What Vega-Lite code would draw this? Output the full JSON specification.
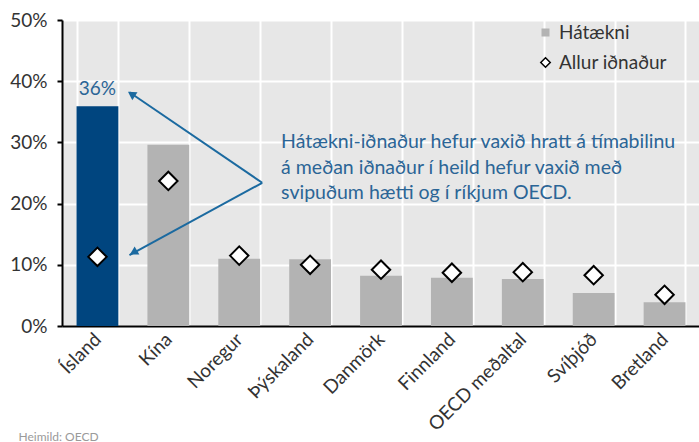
{
  "$schema": "https://vega.github.io/schema/vega-lite/v6.json",
  "width": 638,
  "height": 306,
  "autosize": {"type": "none"},
  "padding": {"left": 62, "top": 20, "right": 0, "bottom": 116},
  "config": {
    "view": {"fill": "#e7e7e7", "stroke": null},
    "font": "Lato",
    "axis": {"labelFont": "Lato", "labelFontSize": 19, "labelColor": "#333333", "labelFontWeight": 400}
  },
  "datasets": {
    "main": [
      {"land": "Ísland", "hataekni": 0.359, "allur": 0.113, "s1": "Hátækni", "s2": "Allur iðnaður"},
      {"land": "Kína", "hataekni": 0.296, "allur": 0.237, "s1": "Hátækni", "s2": "Allur iðnaður"},
      {"land": "Noregur", "hataekni": 0.110, "allur": 0.115, "s1": "Hátækni", "s2": "Allur iðnaður"},
      {"land": "Þýskaland", "hataekni": 0.109, "allur": 0.100, "s1": "Hátækni", "s2": "Allur iðnaður"},
      {"land": "Danmörk", "hataekni": 0.082, "allur": 0.092, "s1": "Hátækni", "s2": "Allur iðnaður"},
      {"land": "Finnland", "hataekni": 0.079, "allur": 0.087, "s1": "Hátækni", "s2": "Allur iðnaður"},
      {"land": "OECD meðaltal", "hataekni": 0.077, "allur": 0.088, "s1": "Hátækni", "s2": "Allur iðnaður"},
      {"land": "Svíþjóð", "hataekni": 0.054, "allur": 0.083, "s1": "Hátækni", "s2": "Allur iðnaður"},
      {"land": "Bretland", "hataekni": 0.039, "allur": 0.051, "s1": "Hátækni", "s2": "Allur iðnaður"}
    ]
  },
  "layer": [
    {
      "data": {"name": "main"},
      "mark": {"type": "bar"},
      "encoding": {
        "x": {
          "field": "land", "type": "nominal", "sort": null,
          "scale": {"domain": ["Ísland", "Kína", "Noregur", "Þýskaland", "Danmörk", "Finnland", "OECD meðaltal", "Svíþjóð", "Bretland"], "paddingInner": 0.41, "paddingOuter": 0.205},
          "axis": {
            "title": "Heimild: OECD", "titleX": -44, "titleY": 110, "titleAlign": "left", "titleBaseline": "middle",
            "titleFontSize": 12, "titleFontWeight": "normal", "titleColor": "#9a9a9a", "titleFont": "Lato",
            "labelAngle": -45, "labelAlign": "right", "labelBaseline": "middle", "labelPadding": 10,
            "ticks": false, "grid": true, "tickBand": "extent", "gridColor": "white", "gridWidth": 2,
            "domainColor": "black", "domainWidth": 2
          }
        },
        "y": {
          "field": "hataekni", "type": "quantitative",
          "scale": {"domain": [0, 0.5], "nice": false},
          "axis": {
            "title": null, "format": ".0%", "values": [0, 0.1, 0.2, 0.3, 0.4, 0.5],
            "grid": true, "gridColor": "white", "gridWidth": 2,
            "domainColor": "black", "domainWidth": 2, "tickColor": "black", "tickWidth": 2, "tickSize": 5, "labelPadding": 10
          }
        },
        "color": {
          "condition": {"test": "datum.land === 'Ísland'", "value": "#00457f"},
          "field": "s1", "type": "nominal",
          "scale": {"domain": ["Hátækni"], "range": ["#b3b3b3"]},
          "legend": {
            "title": null, "orient": "none", "legendX": 474, "legendY": 3, "padding": 0,
            "symbolType": "square", "symbolSize": 64, "labelFontSize": 19, "labelColor": "#333333",
            "labelFont": "Lato", "labelFontWeight": 400, "labelOffset": 4
          }
        }
      }
    },
    {
      "data": {"name": "main"},
      "mark": {"type": "point", "filled": true, "fill": "white", "stroke": "black", "strokeWidth": 2, "size": 340, "opacity": 1},
      "encoding": {
        "x": {"field": "land", "type": "nominal", "sort": null},
        "y": {"field": "allur", "type": "quantitative"},
        "shape": {
          "field": "s2", "type": "nominal",
          "scale": {"domain": ["Allur iðnaður"], "range": ["diamond"]},
          "legend": {
            "title": null, "orient": "none", "legendX": 474, "legendY": 33, "padding": 0,
            "symbolSize": 90,
            "labelFontSize": 19, "labelColor": "#333333", "labelFont": "Lato", "labelFontWeight": 400, "labelOffset": 4,
            "encode": {"symbols": {"update": {"fill": {"value": "white"}, "stroke": {"value": "black"}, "strokeWidth": {"value": 2}, "opacity": {"value": 1}}}}
          }
        }
      }
    },
    {
      "data": {"name": "main"},
      "transform": [{"filter": "datum.land === 'Ísland'"}],
      "mark": {"type": "text", "color": "#2b6596", "fontSize": 19, "font": "Lato", "fontWeight": 400, "dy": -17, "baseline": "middle"},
      "encoding": {
        "x": {"field": "land", "type": "nominal", "sort": null},
        "y": {"field": "hataekni", "type": "quantitative"},
        "text": {"field": "hataekni", "type": "quantitative", "format": ".0%"}
      }
    },
    {
      "data": {"values": [{"land": "Þýskaland", "y": 0.30, "text": ["Hátækni-iðnaður hefur vaxið hratt á tímabilinu", "á meðan iðnaður í heild hefur vaxið með", "svipuðum hætti og í ríkjum OECD."]}]},
      "mark": {"type": "text", "align": "left", "baseline": "middle", "dx": -29, "lineHeight": 25.5, "fontSize": 19.5, "font": "Lato", "fontWeight": 400, "color": "#2b6596"},
      "encoding": {
        "x": {"field": "land", "type": "nominal", "sort": null},
        "y": {"field": "y", "type": "quantitative"},
        "text": {"field": "text"}
      }
    },
    {
      "data": {"values": [{"from": "Noregur", "y": 0.234, "to": "Ísland", "y2": 0.382}, {"from": "Noregur", "y": 0.234, "to": "Ísland", "y2": 0.116}]},
      "mark": {"type": "rule", "color": "#1b6aa0", "strokeWidth": 2, "xOffset": 23, "x2Offset": 32},
      "encoding": {
        "x": {"field": "from", "type": "nominal", "sort": null},
        "x2": {"field": "to"},
        "y": {"field": "y", "type": "quantitative"},
        "y2": {"field": "y2"}
      }
    },
    {
      "data": {"values": [{"land": "Ísland", "y": 0.379}]},
      "mark": {"type": "point", "shape": "triangle-up", "filled": true, "color": "#1b6aa0", "opacity": 1, "size": 90, "angle": 303, "xOffset": 34},
      "encoding": {
        "x": {"field": "land", "type": "nominal", "sort": null},
        "y": {"field": "y", "type": "quantitative"}
      }
    },
    {
      "data": {"values": [{"land": "Ísland", "y": 0.12}]},
      "mark": {"type": "point", "shape": "triangle-up", "filled": true, "color": "#1b6aa0", "opacity": 1, "size": 90, "angle": 240, "xOffset": 36},
      "encoding": {
        "x": {"field": "land", "type": "nominal", "sort": null},
        "y": {"field": "y", "type": "quantitative"}
      }
    }
  ]
}
